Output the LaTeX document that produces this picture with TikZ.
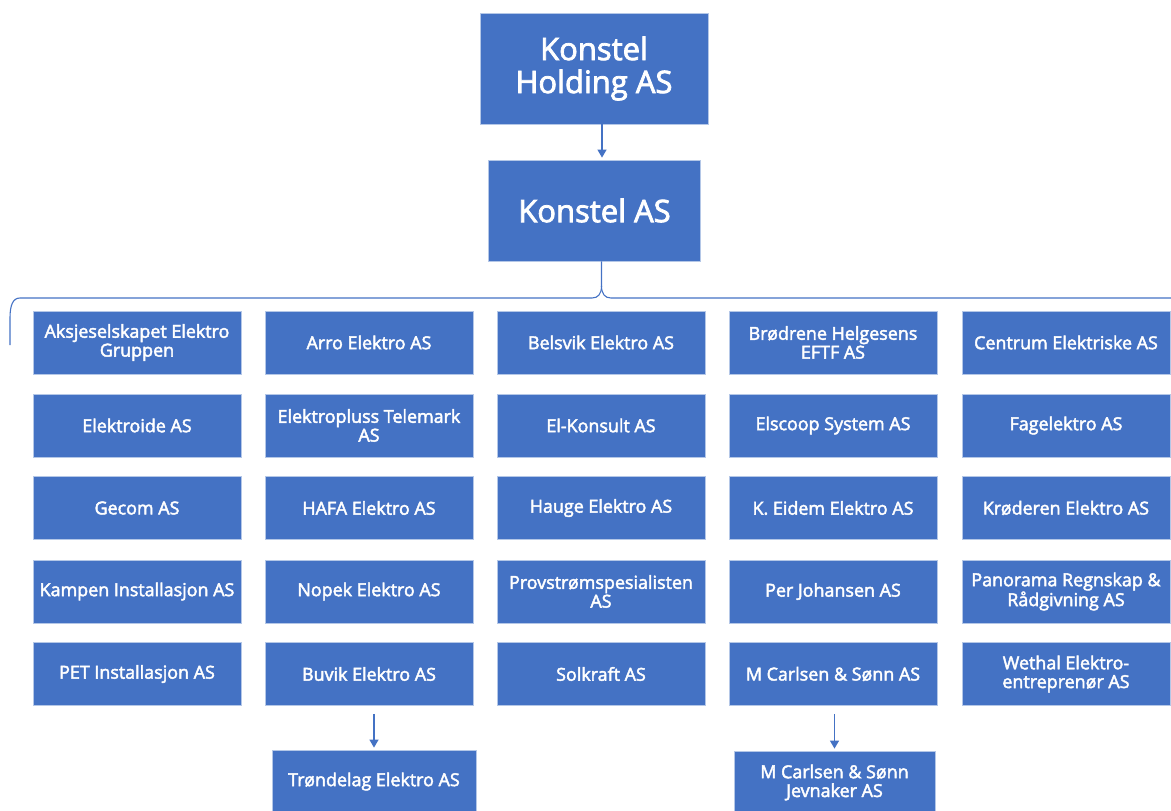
\documentclass[tikz,border=0pt]{standalone}
\usepackage{fontspec}
\setmainfont{Open Sans}
\newfontfamily\semib{Open Sans}[FakeBold=2.5]
\usetikzlibrary{arrows.meta}
\definecolor{acc}{HTML}{4472C4}
\definecolor{edgec}{HTML}{B4C7E7}
\tikzset{
  box/.style={fill=acc, draw=edgec, line width=0.8pt, text=white, align=center, inner sep=0pt},
  bigbox/.style={box, font=\semib\fontsize{31}{33}\selectfont},
  smallbox/.style={box, minimum width=208pt, minimum height=63pt, font=\semib\fontsize{17.9}{18.8}\selectfont},
  conn/.style={draw=acc, line width=1.3pt},
  arr/.style={conn, -{Triangle[width=9pt,length=8pt]}}
}
\begin{document}
\begin{tikzpicture}[x=1pt,y=-1pt]
\useasboundingbox (0,0) rectangle (1171,811);
\node[bigbox, minimum width=228pt, minimum height=111pt] (hold) at (594,68.5) {Konstel\\Holding AS};
\node[bigbox, minimum width=212pt, minimum height=101pt] (kon) at (594.5,210.5) {Konstel AS};
% grid
\node[smallbox] (a1) at (137,342.5) {Aksjeselskapet Elektro\\Gruppen};
\node[smallbox] (b1) at (369,342.5) {Arro Elektro AS};
\node[smallbox] (c1) at (601,342.5) {Belsvik Elektro AS};
\node[smallbox] (d1) at (833,342.5) {Brødrene Helgesens\\EFTF AS};
\node[smallbox] (e1) at (1066,342.5) {Centrum Elektriske AS};
\node[smallbox] (a2) at (137,425.5) {Elektroide AS};
\node[smallbox] (b2) at (369,425.5) {Elektropluss Telemark\\AS};
\node[smallbox] (c2) at (601,425.5) {El-Konsult AS};
\node[smallbox] (d2) at (833,425.5) {Elscoop System AS};
\node[smallbox] (e2) at (1066,425.5) {Fagelektro AS};
\node[smallbox] (a3) at (137,508) {Gecom AS};
\node[smallbox] (b3) at (369,508) {HAFA Elektro AS};
\node[smallbox] (c3) at (601,508) {Hauge Elektro AS};
\node[smallbox] (d3) at (833,508) {K. Eidem Elektro AS};
\node[smallbox] (e3) at (1066,508) {Krøderen Elektro AS};
\node[smallbox] (a4) at (137,591.5) {Kampen Installasjon AS};
\node[smallbox] (b4) at (369,591.5) {Nopek Elektro AS};
\node[smallbox] (c4) at (601,591.5) {Provstrømspesialisten\\AS};
\node[smallbox] (d4) at (833,591.5) {Per Johansen AS};
\node[smallbox] (e4) at (1066,591.5) {Panorama Regnskap \&\\Rådgivning AS};
\node[smallbox] (a5) at (137,674) {PET Installasjon AS};
\node[smallbox] (b5) at (369,674) {Buvik Elektro AS};
\node[smallbox] (c5) at (601,674) {Solkraft AS};
\node[smallbox] (d5) at (833,674) {M Carlsen \& Sønn AS};
\node[smallbox] (e5) at (1066,674) {Wethal Elektro-\\entreprenør AS};
\node[smallbox, minimum width=204pt] (tr) at (374,781.5) {Trøndelag Elektro AS};
\node[smallbox, minimum width=201pt] (jv) at (834.5,782.5) {M Carlsen \& Sønn\\Jevnaker AS};
% connectors
\draw[arr] ([xshift=8pt]hold.south) -- ([xshift=8pt,yshift=2pt]hold.south |- kon.north);
\draw[arr, shorten <=8pt, shorten >=2pt] (b5.south -| tr.north) -- (tr.north);
\draw[arr, shorten <=8pt, shorten >=2pt] (d5.south -| jv.north) -- (jv.north);
% brace
\coordinate (bt) at ([xshift=7pt]kon.south);
\coordinate (bm) at (601.5,286);
\coordinate (bl) at (10,345);
\coordinate (br) at (1175,298);
\draw[conn, line width=1.1pt] (bt) -- (bm) .. controls (601.5,294) and (598,298) .. (592,298) -- (20,298) .. controls (13,298) and (10,305) .. (10,318) -- (bl);
\draw[conn, line width=1.1pt] (bm) .. controls (601.5,294) and (605,298) .. (611,298) -- (br);
\end{tikzpicture}
\end{document}
